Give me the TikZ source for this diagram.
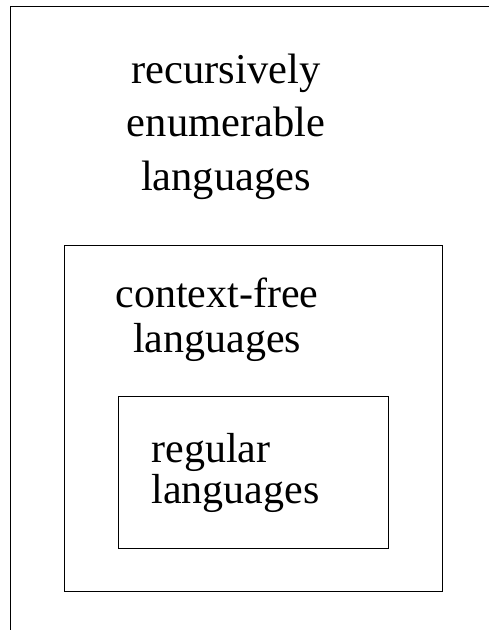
\documentclass[tikz,border=0pt]{standalone}
\usepackage{fontspec}
\setmainfont{Liberation Serif}

\begin{document}
\begin{tikzpicture}[x=1pt,y=-1pt,line width=0.9pt,
    langtext/.style={inner sep=0pt,font=\fontsize{42.5}{53.5}\selectfont}]

    \useasboundingbox (0,0) rectangle (489,630);

    \draw (10,630) -- (10,6.5) -- (489,6.5);
    \node[langtext,align=center,anchor=base] (relang) at (226,190) {recursively\\enumerable\\languages};

    \draw (64,245) rectangle (442,591);
    \node[langtext,align=center,anchor=base,font=\fontsize{42}{45}\selectfont] (cflang) at (217,352.5) {context-free\\languages};

    \draw (118.5,396) rectangle (388,548);
    \node[langtext,align=left,anchor=base west,font=\fontsize{42}{41}\selectfont] (reglang) at (151,503) {regular\\languages};

\end{tikzpicture}
\end{document}
